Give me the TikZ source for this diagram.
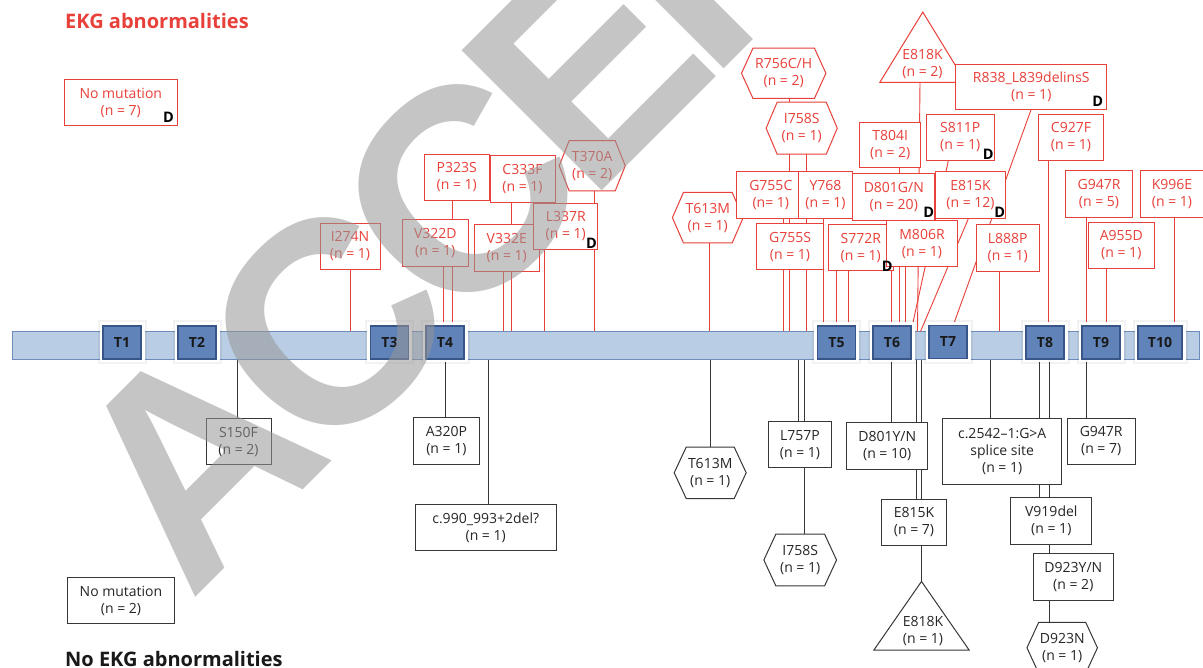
\documentclass[tikz,border=0pt]{standalone}
\usepackage{fontspec}
\setmainfont{Open Sans}
\newfontfamily\wmfont{Liberation Sans}
\usetikzlibrary{calc}
\pgfdeclarelayer{barl}
\pgfdeclarelayer{linel}
\pgfdeclarelayer{framel}
\pgfdeclarelayer{wml}
\pgfsetlayers{barl,linel,framel,main,wml}
\definecolor{ered}{RGB}{232,64,58}
\definecolor{dline}{RGB}{55,55,55}
\definecolor{barfill}{RGB}{185,205,228}
\definecolor{barline}{RGB}{110,140,185}
\definecolor{tblue}{RGB}{96,132,186}
\definecolor{tdark}{RGB}{55,85,135}
\definecolor{wm}{RGB}{150,150,150}
% red connector from a node down to the bar, at x = #3
\newcommand\rup[3][rl]{\coordinate (tmp) at (#3,0); \draw[#1] (#2.south -| tmp) -- (tmp |- bar.north);}
% black connector from the bar down to a node, at x = #2
\newcommand\bdown[2]{\coordinate (tmp) at (#2,0); \draw[bl] (tmp |- bar.south) -- (tmp |- #1.north);}
% slanted red connector: node #1, start x #2, end x #3 on the bar
\newcommand\rslant[3]{\coordinate (tmpa) at (#2,0); \coordinate (tmpb) at (#3,0); \draw[rl] (#1.south -| tmpa) -- (tmpb |- bar.north);}
\newcommand\hexa[3]{\begin{pgfonlayer}{framel}\draw[#3, line width=1pt, fill=white] (#1.north west) -- (#1.north east) -- ([xshift=#2pt]#1.east) -- (#1.south east) -- (#1.south west) -- ([xshift=-#2pt]#1.west) -- cycle;\end{pgfonlayer}}
\newcommand\trian[2]{\begin{pgfonlayer}{framel}\draw[#2, line width=1pt, fill=white] (#1.north) -- (#1.south east) -- (#1.south west) -- cycle;\end{pgfonlayer}}
\begin{document}
\begin{tikzpicture}[x=1pt,y=-1pt,
  lbl/.style={font=\fontsize{14}{17}\selectfont, align=center, inner sep=0pt},
  sz/.style 2 args={minimum width=#1pt, minimum height=#2pt},
  rbox/.style={lbl, draw=ered, text=ered, fill=white, line width=1pt},
  bbox/.style={lbl, draw=dline, text=black!85, fill=white, line width=1pt},
  rhex/.style={lbl, text=ered},
  bhex/.style={lbl, text=black!85},
  geo/.style={inner sep=0pt},
  rl/.style={draw=ered, line width=0.9pt},
  bl/.style={draw=dline, line width=1pt},
  dmark/.style={font=\fontsize{14.5}{14.5}\selectfont\bfseries, inner sep=0pt, text=black},
  tbox/.style={fill=tblue, draw=tdark, line width=1.2pt,
     preaction={draw=black, draw opacity=0.05, line width=11pt},
     preaction={draw=white, line width=7pt},
     font=\fontsize{14}{14}\selectfont\bfseries,
     minimum height=33pt, minimum width=38pt, inner sep=0pt, text=black!90},
  ttl/.style={anchor=base west, font=\fontsize{20}{20}\selectfont\bfseries, inner sep=0pt}
]
\useasboundingbox (0,0) rectangle (1203,668);
\begin{pgfonlayer}{barl}
\fill[white] (0,0) rectangle (1203,668);
\node[draw=barline, fill=barfill, line width=1pt, minimum width=1187pt, minimum height=28pt, inner sep=0pt] (bar) at (605.5,346) {};
\end{pgfonlayer}
% titles
\node[ttl, text=ered] (ttop) at (65,29) {EKG abnormalities};
\node[ttl, text=black!90] (tbot) at (65,666.5) {No EKG abnormalities};

% ---------- T boxes ----------
\node[tbox] (T1) at (122,342.5) {T1};
\node[tbox] (T2) at (197,342.5) {T2};
\node[tbox] (T3) at (389.5,342.5) {T3};
\node[tbox] (T4) at (445,342.5) {T4};
\node[tbox] (T5) at (836.5,342.5) {T5};
\node[tbox] (T6) at (892,342.5) {T6};
\node[tbox] (T7) at (948,342) {T7};
\node[tbox] (T8) at (1045,342.5) {T8};
\node[tbox] (T9) at (1101,342.5) {T9};
\node[tbox, minimum width=44pt] (T10) at (1160,342.5) {T10};

% ---------- red nodes ----------
\node[rbox, sz={113}{46.4}] (nomut7) at (120.8,102.5) {No mutation\\(n = 7)};
\node[rbox, sz={60}{46}] (i274n) at (350,246.3) {I274N\\(n = 1)};
\node[rbox, sz={66}{46.7}] (v322d) at (435.3,243.3) {V322D\\(n = 1)};
\node[rbox, sz={65}{46.4}] (p323s) at (456.8,177.5) {P323S\\(n = 1)};
\node[rbox, sz={65}{47}] (c333f) at (522.5,178.8) {C333F\\(n = 1)};
\node[rbox, sz={65}{46.7}] (v332e) at (506.8,247.7) {V332E\\(n = 1)};
\node[rbox, sz={63.7}{46}] (l337r) at (565.8,226.3) {L337R\\(n = 1)};
\node[rhex, sz={45.7}{49.7}] (t370a) at (592.2,165.8) {T370A\\(n = 2)};
\hexa{t370a}{10}{ered}
\node[rhex, sz={48.4}{50}] (t613mr) at (707.8,217.7) {T613M\\(n = 1)};
\hexa{t613mr}{11}{ered}
\node[rhex, sz={61}{50}] (r756) at (783.7,73.3) {R756C/H\\(n = 2)};
\hexa{r756}{11.5}{ered}
\node[rhex, sz={48.7}{51.7}] (i758sr) at (801.7,128.2) {I758S\\(n = 1)};
\hexa{i758sr}{11}{ered}
\node[rbox, sz={68.3}{46.6}] (g755c) at (770.8,195) {G755C\\(n= 1)};
\node[rbox, sz={54.4}{46.6}] (y768) at (825.5,195) {Y768\\(n = 1)};
\node[rbox, sz={66.6}{46}] (g755s) at (790,247) {G755S\\(n = 1)};
\node[rbox, sz={65}{45.7}] (s772r) at (860.8,247.8) {S772R\\(n = 1)};
\node[rbox, sz={60.7}{45.4}] (t804i) at (890.3,145) {T804I\\(n = 2)};
\node[rbox, sz={82.3}{47.4}] (d801gn) at (893.8,197) {D801G/N\\(n = 20)};
\node[rbox, sz={70.6}{46}] (m806r) at (922,243.7) {M806R\\(n = 1)};
\node[rbox, sz={150.7}{45.3}] (r838) at (1031.3,86.7) {R838\_L839delinsS\\(n = 1)};
\node[geo, sz={85.7}{70}] (e818kr) at (922.8,47.3) {};
\trian{e818kr}{ered}
\node[rhex] (e818krt) at (922.5,64) {E818K\\(n = 2)};
\node[rbox, sz={68.3}{46}] (s811p) at (960.2,137.3) {S811P\\(n = 1)};
\node[rbox, sz={70.4}{46.6}] (e815kr) at (970.5,195) {E815K\\(n = 12)};
\node[rbox, sz={63.3}{46.7}] (l888p) at (1007.7,248.3) {L888P\\(n = 1)};
\node[rbox, sz={64.6}{45.7}] (c927f) at (1071,137.2) {C927F\\(n = 1)};
\node[rbox, sz={66.6}{46.7}] (g947rr) at (1099,194.3) {G947R\\(n = 5)};
\node[rbox, sz={62.6}{46.7}] (k996e) at (1172,194.3) {K996E\\(n = 1)};
\node[rbox, sz={66}{46.4}] (a955d) at (1121.3,245.5) {A955D\\(n = 1)};
% D marks
\node[dmark] (dm1) at ([shift={(-9.3,-8.7)}]nomut7.south east) {D};
\node[dmark] (dm2) at ([shift={(-6.7,-6)}]l337r.south east) {D};
\node[dmark] (dm3) at ([shift={(-6.6,-4.7)}]s772r.south east) {D};
\node[dmark] (dm4) at ([shift={(-6.7,-8.7)}]d801gn.south east) {D};
\node[dmark] (dm5) at ([shift={(-9.4,-8.3)}]r838.south east) {D};
\node[dmark] (dm6) at ([shift={(-6.6,-6.6)}]s811p.south east) {D};
\node[dmark] (dm7) at ([shift={(-6.4,-6.3)}]e815kr.south east) {D};

% ---------- black nodes ----------
\node[bbox, sz={65}{46.2}] (s150f) at (238.5,441.8) {S150F\\(n = 2)};
\node[bbox, sz={65.2}{46.8}] (a320p) at (446.4,441.1) {A320P\\(n = 1)};
\node[bbox, sz={141.3}{46.8}] (c990) at (485.7,527.4) {c.990\_993+2del?\\(n = 1)};
\node[bbox, sz={106.5}{45.8}] (nomut2) at (121,600.5) {No mutation\\(n = 2)};
\node[bhex, sz={47.6}{51}] (t613mb) at (710.2,472.8) {T613M\\(n = 1)};
\hexa{t613mb}{12}{dline}
\node[bbox, sz={63.4}{46}] (l757p) at (800,444.7) {L757P\\(n = 1)};
\node[bhex, sz={48.3}{51.4}] (i758sb) at (800.2,560) {I758S\\(n = 1)};
\hexa{i758sb}{12}{dline}
\node[bbox, sz={81}{46.6}] (d801yn) at (887.2,446) {D801Y/N\\(n = 10)};
\node[bbox, sz={65.4}{46}] (e815kb) at (914,522) {E815K\\(n = 7)};
\node[geo, sz={95}{68.3}] (e818kb) at (921.5,615.8) {};
\trian{e818kb}{dline}
\node[bhex] (e818kbt) at (923,631) {E818K\\(n = 1)};
\node[bbox, sz={119}{65}] (c2542) at (1002.2,451.5) {c.2542–1:G>A\\splice site\\(n = 1)};
\node[bbox, sz={80.7}{46.6}] (v919) at (1051.3,521) {V919del\\(n = 1)};
\node[bbox, sz={80}{46.7}] (d923yn) at (1073.3,576.7) {D923Y/N\\(n = 2)};
\node[bhex, sz={46.7}{50.3}] (d923n) at (1062.2,647.8) {D923N\\(n = 1)};
\hexa{d923n}{11.7}{dline}
\node[bbox, sz={67.7}{46}] (g947rb) at (1101.2,441.3) {G947R\\(n = 7)};

% ---------- connectors ----------
\begin{pgfonlayer}{linel}
\rup{i274n}{350}
\rup{v322d}{443.3}
\rup{p323s}{452}
\rup{v332e}{503.3}
\rup{c333f}{511.5}
\rup{l337r}{544.3}
\rup{t370a}{594.7}
\rup{t613mr}{709.3}
\rup{g755c}{783.3}
\rup{r756}{789.5}
\rup{i758sr}{806.7}
\rup{y768}{823.3}
\rup{s772r}{836.3}
\rup{s772r}{848}
\rup{d801gn}{891.7}
\rup{t804i}{899.3}
\rup{m806r}{905.7}
\rslant{e818kr}{920}{917.5}
\rslant{s811p}{948.3}{911}
\rslant{e815kr}{968.3}{920.5}
\rslant{r838}{1031}{951}
\rup{l888p}{999}
\rup{c927f}{1048.3}
\rup{g947rr}{1086}
\rup{a955d}{1106.7}
\rup{k996e}{1174.3}
\bdown{s150f}{237.5}
\bdown{a320p}{445.2}
\bdown{c990}{488.5}
\bdown{t613mb}{710.7}
\bdown{l757p}{798.3}
\bdown{i758sb}{804}
\bdown{d801yn}{891}
\bdown{e815kb}{916}
\bdown{e818kb}{921.5}
\bdown{c2542}{990.7}
\bdown{v919}{1039.3}
\bdown{d923n}{1049}
\bdown{g947rb}{1086}
\end{pgfonlayer}

% ---------- watermark ----------
\begin{pgfonlayer}{wml}
\node[anchor=base west, rotate=45, inner sep=0pt, text=wm, text opacity=0.55,
      font=\wmfont\bfseries\fontsize{288}{288}\selectfont] (wmark) at (190,603)
      {A\kern-20pt C\kern-20pt C\kern-20pt E\kern-20pt P\kern-20pt T\kern-20pt E\kern-20pt D};
\end{pgfonlayer}
\end{tikzpicture}
\end{document}
